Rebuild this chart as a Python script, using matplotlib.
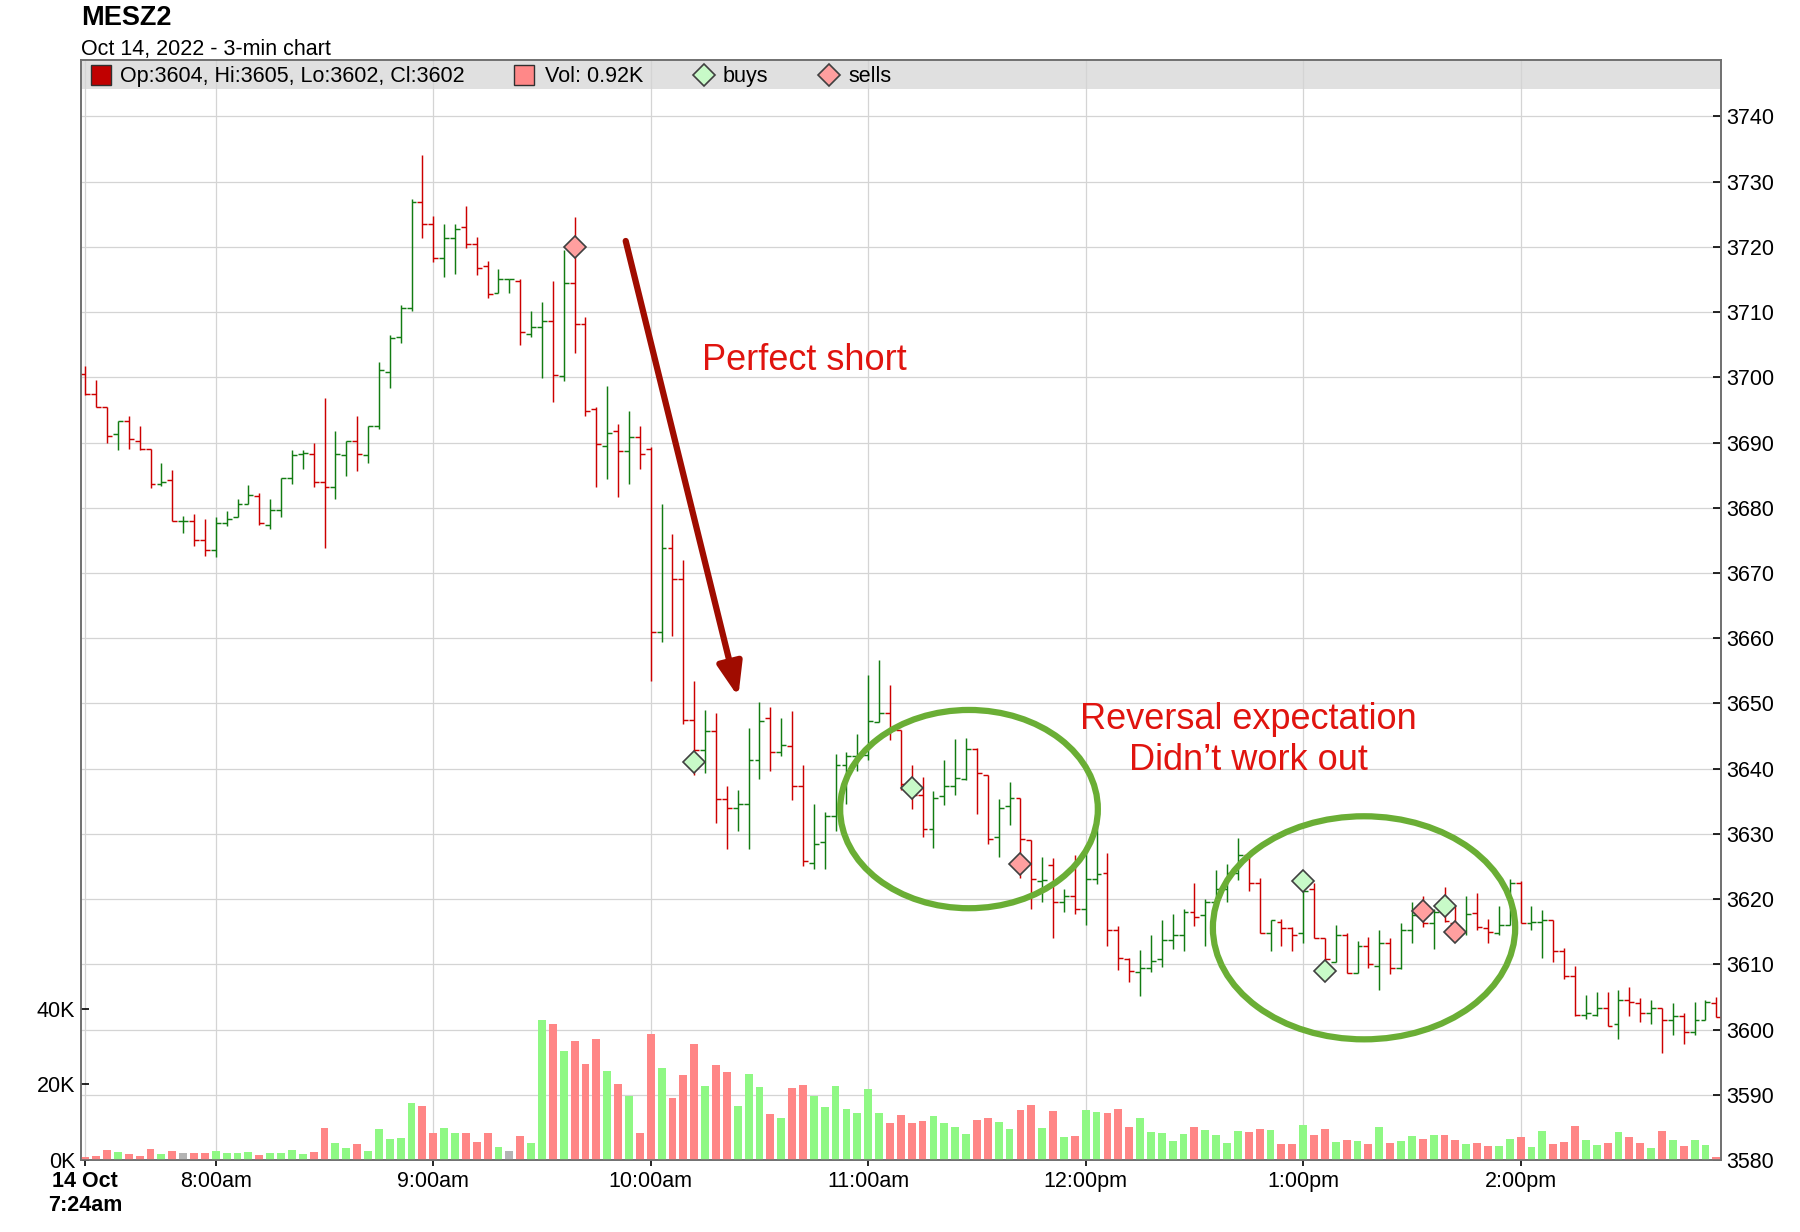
"""3-min OHLC chart of MESZ2 with volume, trade markers and notes."""
import matplotlib
matplotlib.use("Agg")
import matplotlib.pyplot as plt
from matplotlib.patches import Ellipse, Rectangle
import numpy as np
import pandas as pd

plt.rcParams["font.family"] = ["Liberation Sans", "DejaVu Sans"]

SYMBOL = "MESZ2"
SUBTITLE = "Oct 14, 2022 - 3-min chart"
START = "2022-10-14 07:24"

opens = [
    3700.5, 3697.5, 3695.5, 3691.3, 3693.3, 3690.2, 3689.0, 3683.7, 3684.2, 3677.9,
    3677.9, 3675.0, 3673.5, 3677.7, 3678.6, 3680.5, 3681.8, 3677.4, 3679.7, 3684.5,
    3688.2, 3688.2, 3684.0, 3683.2, 3688.1, 3690.2, 3688.1, 3692.5, 3700.8, 3706.2,
    3710.6, 3726.9, 3723.5, 3718.3, 3721.3, 3723.0, 3720.5, 3717.0, 3713.0, 3715.0,
    3714.7, 3706.7, 3707.7, 3708.7, 3700.2, 3714.5, 3708.2, 3695.1, 3689.4, 3691.7,
    3688.7, 3690.9, 3689.0, 3661.0, 3673.9, 3669.0, 3647.4, 3642.9, 3645.7, 3635.4,
    3633.9, 3634.6, 3641.4, 3647.7, 3642.6, 3643.4, 3637.4, 3625.6, 3628.7, 3632.7,
    3640.6, 3641.9, 3642.1, 3647.1, 3648.5, 3646.0, 3637.6, 3636.0, 3630.8, 3635.8,
    3637.4, 3638.4, 3643.0, 3639.0, 3629.5, 3634.2, 3635.5, 3629.0, 3622.8, 3625.2,
    3619.6, 3620.4, 3618.5, 3623.1, 3624.0, 3615.3, 3610.8, 3608.8, 3609.5, 3610.8,
    3613.7, 3614.5, 3618.0, 3617.5, 3619.6, 3621.6, 3624.0, 3626.8, 3622.4, 3614.8,
    3616.5, 3615.5, 3614.8, 3621.5, 3614.0, 3610.4, 3614.5, 3608.7, 3612.8, 3609.7,
    3613.2, 3609.4, 3615.2, 3617.8, 3616.4, 3618.0, 3616.4, 3615.0, 3617.9, 3615.5,
    3614.8, 3616.0, 3622.5, 3616.3, 3616.5, 3616.8, 3612.1, 3608.2, 3602.2, 3602.2,
    3603.3, 3600.9, 3604.5, 3604.0, 3602.5, 3603.3, 3601.4, 3602.1, 3599.7, 3601.4,
    3604.0,
]
highs = [
    3701.7, 3699.6, 3695.5, 3693.3, 3694.0, 3692.5, 3689.0, 3686.9, 3685.8, 3678.7,
    3679.0, 3678.3, 3678.6, 3679.5, 3681.3, 3683.5, 3682.2, 3681.3, 3684.6, 3688.8,
    3688.8, 3690.0, 3696.9, 3691.8, 3690.2, 3694.1, 3692.5, 3702.4, 3706.5, 3711.1,
    3727.3, 3734.1, 3724.7, 3723.5, 3723.5, 3726.3, 3721.5, 3717.8, 3716.6, 3715.0,
    3715.0, 3710.2, 3711.5, 3714.7, 3719.5, 3724.6, 3709.2, 3695.4, 3698.7, 3692.8,
    3694.8, 3692.5, 3689.3, 3680.5, 3676.0, 3672.0, 3653.5, 3649.0, 3648.5, 3637.3,
    3636.7, 3646.2, 3650.2, 3649.4, 3647.7, 3648.9, 3640.5, 3634.6, 3633.4, 3642.2,
    3642.6, 3645.3, 3654.4, 3656.7, 3652.9, 3646.0, 3640.5, 3638.7, 3636.6, 3641.4,
    3644.5, 3644.7, 3643.2, 3639.0, 3635.4, 3638.0, 3635.5, 3629.0, 3626.5, 3626.3,
    3621.6, 3626.8, 3627.6, 3632.0, 3627.0, 3615.8, 3611.0, 3612.2, 3614.5, 3616.8,
    3617.7, 3618.5, 3622.4, 3620.0, 3624.4, 3625.4, 3629.3, 3626.8, 3623.2, 3616.8,
    3617.0, 3615.7, 3623.0, 3622.5, 3614.0, 3616.0, 3614.8, 3613.6, 3614.2, 3615.3,
    3614.0, 3616.4, 3619.5, 3620.5, 3618.5, 3621.9, 3618.9, 3620.5, 3620.9, 3617.0,
    3618.9, 3623.1, 3622.8, 3619.0, 3618.4, 3616.8, 3612.5, 3609.7, 3605.3, 3605.7,
    3605.7, 3606.1, 3606.5, 3604.8, 3604.5, 3603.3, 3604.0, 3602.6, 3604.2, 3604.5,
    3605.0,
]
lows = [
    3697.3, 3695.5, 3690.0, 3688.8, 3689.0, 3688.8, 3683.0, 3683.3, 3677.9, 3676.2,
    3674.2, 3672.6, 3672.5, 3677.2, 3678.6, 3680.5, 3677.4, 3676.7, 3678.6, 3683.7,
    3686.0, 3683.2, 3673.9, 3681.3, 3684.9, 3685.6, 3686.8, 3692.1, 3698.4, 3705.2,
    3710.2, 3721.4, 3717.7, 3715.4, 3715.8, 3719.9, 3715.7, 3712.2, 3713.0, 3713.0,
    3704.9, 3706.2, 3699.9, 3696.2, 3699.5, 3703.8, 3694.0, 3683.2, 3684.4, 3681.7,
    3683.6, 3686.0, 3653.5, 3659.4, 3660.3, 3646.8, 3639.0, 3639.3, 3631.7, 3627.7,
    3630.5, 3627.7, 3638.4, 3639.6, 3641.9, 3635.2, 3625.0, 3624.6, 3624.6, 3630.5,
    3634.6, 3639.7, 3641.4, 3647.1, 3644.4, 3636.7, 3633.8, 3629.5, 3627.8, 3634.5,
    3635.9, 3638.3, 3633.0, 3628.4, 3626.4, 3631.4, 3623.2, 3618.5, 3619.5, 3614.1,
    3618.0, 3617.7, 3616.0, 3622.3, 3612.8, 3609.1, 3607.3, 3605.2, 3608.8, 3609.6,
    3612.4, 3612.0, 3615.9, 3612.8, 3619.6, 3619.5, 3623.0, 3621.2, 3614.8, 3612.0,
    3612.8, 3612.1, 3613.2, 3614.1, 3609.0, 3610.4, 3608.6, 3608.6, 3609.4, 3606.0,
    3608.5, 3609.3, 3613.2, 3615.7, 3612.4, 3616.5, 3614.5, 3614.5, 3615.3, 3613.2,
    3614.5, 3616.0, 3616.3, 3615.2, 3610.9, 3610.4, 3607.7, 3602.1, 3601.6, 3602.1,
    3600.5, 3598.6, 3602.1, 3601.2, 3600.9, 3596.4, 3599.2, 3597.8, 3599.2, 3601.4,
    3602.0,
]
closes = [
    3697.5, 3695.5, 3691.0, 3693.3, 3690.5, 3689.0, 3683.7, 3684.0, 3677.9, 3677.9,
    3675.0, 3673.5, 3677.7, 3678.2, 3680.5, 3682.0, 3677.7, 3679.7, 3684.5, 3688.1,
    3688.4, 3684.0, 3683.2, 3688.2, 3690.2, 3688.2, 3692.5, 3701.1, 3706.0, 3710.6,
    3726.9, 3723.5, 3718.3, 3721.3, 3722.7, 3720.5, 3716.8, 3712.7, 3715.0, 3715.0,
    3707.0, 3707.7, 3708.7, 3700.4, 3714.5, 3708.2, 3694.9, 3689.7, 3691.5, 3688.7,
    3690.9, 3688.2, 3661.0, 3673.9, 3669.0, 3647.4, 3642.9, 3645.7, 3635.3, 3633.9,
    3634.6, 3641.4, 3647.3, 3642.6, 3643.7, 3637.4, 3625.8, 3628.4, 3632.7, 3640.6,
    3641.9, 3642.1, 3647.3, 3648.5, 3646.0, 3637.6, 3636.0, 3630.8, 3635.5, 3637.4,
    3638.5, 3643.0, 3639.3, 3629.2, 3633.9, 3635.5, 3629.2, 3623.1, 3623.0, 3619.6,
    3620.4, 3618.5, 3623.1, 3623.9, 3615.3, 3611.0, 3609.0, 3609.5, 3610.5, 3613.7,
    3614.5, 3618.0, 3617.2, 3619.6, 3621.6, 3624.0, 3626.8, 3622.5, 3614.8, 3616.8,
    3615.5, 3614.5, 3621.3, 3614.1, 3610.8, 3614.5, 3608.7, 3612.8, 3610.0, 3613.2,
    3609.4, 3615.2, 3617.6, 3616.4, 3618.0, 3616.6, 3615.0, 3617.7, 3615.7, 3614.9,
    3616.0, 3622.5, 3616.3, 3616.5, 3616.8, 3612.1, 3608.2, 3602.2, 3602.5, 3603.3,
    3600.6, 3604.6, 3604.2, 3602.6, 3603.3, 3601.4, 3602.1, 3599.7, 3601.4, 3604.2,
    3602.0,
]
volume_k = [
    0.8, 1.1, 2.6, 2.1, 1.6, 1.1, 2.9, 1.6, 2.4, 1.9,
    1.9, 1.9, 2.4, 1.9, 1.9, 2.1, 1.3, 1.9, 1.9, 2.6,
    1.6, 2.1, 8.5, 4.5, 3.2, 4.2, 2.4, 8.2, 5.6, 5.8,
    15.1, 14.3, 7.1, 8.5, 7.1, 7.1, 4.8, 7.1, 3.4, 2.4,
    6.3, 4.5, 37.0, 35.9, 28.8, 31.5, 25.4, 32.0, 23.5, 20.1,
    16.9, 7.1, 33.3, 24.3, 16.4, 22.5, 30.7, 19.6, 25.1, 23.3,
    14.3, 22.7, 19.3, 12.2, 11.1, 19.0, 19.8, 16.9, 14.0, 19.6,
    13.5, 12.4, 18.8, 12.4, 9.8, 11.9, 9.8, 10.3, 11.6, 9.8,
    8.7, 6.9, 10.6, 11.1, 10.0, 8.2, 13.2, 14.5, 8.5, 13.0,
    6.1, 6.3, 13.2, 12.7, 12.4, 13.5, 8.7, 11.1, 7.4, 7.1,
    5.0, 6.9, 8.7, 7.9, 6.6, 4.5, 7.7, 7.4, 8.2, 7.9,
    4.2, 4.2, 9.3, 6.6, 8.2, 4.8, 5.3, 5.0, 4.2, 8.7,
    4.5, 5.0, 6.3, 5.6, 6.6, 6.6, 5.3, 4.2, 4.5, 3.7,
    3.7, 5.6, 6.1, 3.4, 7.7, 4.2, 4.8, 9.0, 5.3, 4.0,
    4.5, 7.4, 6.1, 4.5, 3.2, 7.7, 5.3, 3.7, 5.3, 4.0,
    0.92,
]

buy_bars = [56, 76, 112, 114, 125]
buy_prices = [3641.0, 3637.1, 3622.8, 3609.0, 3619.0]
sell_bars = [45, 86, 123, 126]
sell_prices = [3720.0, 3625.4, 3618.1, 3615.0]

GREEN = "#127c12"
RED = "#cc0000"
VOL_GREEN = "#8ff884"
VOL_RED = "#ff8686"
VOL_GRAY = "#b4b4b4"
NOTE_RED = "#e0140f"
ARROW_RED = "#a00c00"
CIRCLE_GREEN = "#6aae35"
AXIS_GRAY = "#707070"

o = np.array(opens)
h = np.array(highs)
l = np.array(lows)
c = np.array(closes)
v = np.array(volume_k)
n = len(o)
x = np.arange(n)
times = pd.date_range(START, periods=n, freq="3min")


def time_label(t):
    hour = t.hour % 12 or 12
    return f"{hour}:{t.minute:02d}{'am' if t.hour < 12 else 'pm'}"


fig = plt.figure(figsize=(18, 12.32), dpi=100)
ax = fig.add_axes([0.04483, 0.05844, 0.91111, 0.89261])
axv = ax.twinx()

# price bars
bar_col = np.where(c >= o, GREEN, RED)
ax.vlines(x, l, h, colors=bar_col, lw=1.05, zorder=3)
ax.hlines(o, x - 0.45, x, colors=bar_col, lw=1.05, zorder=3)
ax.hlines(c, x, x + 0.45, colors=bar_col, lw=1.05, zorder=3)

# trades
mk = dict(marker="D", ms=11, mec="#404040", mew=1.2, ls="none", zorder=6)
ax.plot(buy_bars, buy_prices, mfc="#c8fac8", **mk)
ax.plot(sell_bars, sell_prices, mfc="#ff9f9f", **mk)

# notes
ax.annotate("", xy=(60.05, 3651.0), xytext=(49.7, 3720.9),
            arrowprops=dict(arrowstyle="-|>,head_length=0.8,head_width=0.3",
                            lw=4.5, color=ARROW_RED, mutation_scale=25,
                            shrinkA=0, shrinkB=0), zorder=5)
ax.text(66.15, 3702.5, "Perfect short", color=NOTE_RED, fontsize=26,
        ha="center", va="center", zorder=5)
ax.text(107.0, 3644.4, "Reversal expectation\nDidn’t work out", color=NOTE_RED,
        fontsize=26, ha="center", va="center", linespacing=1.2, zorder=5)
ax.add_patch(Ellipse((81.27, 3633.8), 23.7, 30.4, fill=False,
                     ec=CIRCLE_GREEN, lw=4.5, zorder=5))
ax.add_patch(Ellipse((117.6, 3615.6), 27.8, 34.2, fill=False,
                     ec=CIRCLE_GREEN, lw=4.5, zorder=5))

# volume
vol_col = np.where(c > o, VOL_GREEN, np.where(c < o, VOL_RED, VOL_GRAY))
axv.bar(x, v, width=0.72, color=vol_col, linewidth=0, zorder=2)

# axes and grid
ax.set_xlim(-0.423, 150.4)
ax.set_ylim(3580, 3748.6)
axv.set_ylim(0, 290.6)
ax.set_axisbelow(True)
ax.grid(True, color="#d4d4d4", lw=0.9)

ax.yaxis.set_ticks_position("right")
ax.set_yticks(np.arange(3580, 3741, 10))
ax.tick_params(axis="y", direction="in", length=6, width=1.2, pad=4,
               labelsize=15.5, right=True, left=False,
               labelright=True, labelleft=False)
axv.yaxis.set_ticks_position("left")
axv.set_yticks([0, 20, 40])
axv.set_yticklabels([f"{t}K" for t in (0, 20, 40)])
axv.tick_params(axis="y", direction="in", length=6, width=1.2, pad=4,
                labelsize=15.5, left=True, right=False,
                labelleft=True, labelright=False)

tick_idx = [0] + [i for i, t in enumerate(times) if t.minute == 0]
tick_lbl = [times[0].strftime("%d %b") + "\n" + time_label(times[0])]
tick_lbl += [time_label(times[i]) for i in tick_idx[1:]]
ax.set_xticks(tick_idx)
ax.set_xticklabels(tick_lbl)
ax.tick_params(axis="x", direction="out", length=4, width=1.2, pad=4,
               labelsize=15.5)
ax.get_xticklabels()[0].set_fontweight("bold")

for a in (ax, axv):
    for sp in a.spines.values():
        sp.set_color(AXIS_GRAY)
        sp.set_linewidth(1.2)

# legend band
ax.add_patch(Rectangle((0, 0.9736), 1, 0.0264, transform=ax.transAxes,
                       facecolor="#e0e0e0", edgecolor="none", zorder=0.3))
ly = 0.9868
ty = 0.9800
leg = dict(transform=ax.transAxes, clip_on=False, ls="none", zorder=7)
ax.plot([0.0121], [ly], marker="s", ms=14.5, mfc="#c00000", mec="#303030",
        mew=1.0, **leg)
ax.text(0.024, ty, f"Op:{o[-1]:.0f}, Hi:{h[-1]:.0f}, Lo:{l[-1]:.0f}, Cl:{c[-1]:.0f}",
        transform=ax.transAxes, fontsize=15.5, va="baseline", zorder=7)
ax.plot([0.2706], [ly], marker="s", ms=14.5, mfc="#ff8888", mec="#303030",
        mew=1.0, **leg)
ax.text(0.2831, ty, f"Vol: {v[-1]:.2f}K", transform=ax.transAxes,
        fontsize=15.5, va="baseline", zorder=7)
ax.plot([0.380], [ly], marker="D", ms=11, mfc="#c8fac8", mec="#404040",
        mew=1.2, **leg)
ax.text(0.3911, ty, "buys", transform=ax.transAxes, fontsize=15.5,
        va="baseline", zorder=7)
ax.plot([0.4563], [ly], marker="D", ms=11, mfc="#ff9f9f", mec="#404040",
        mew=1.2, **leg)
ax.text(0.4679, ty, "sells", transform=ax.transAxes, fontsize=15.5,
        va="baseline", zorder=7)

fig.text(0.0449, 1 - 25 / 1232, SYMBOL, fontsize=19.5, fontweight="bold",
         va="baseline")
fig.text(0.0449, 1 - 55 / 1232, SUBTITLE, fontsize=15.5, va="baseline")

fig.savefig("out.png", dpi=100)
